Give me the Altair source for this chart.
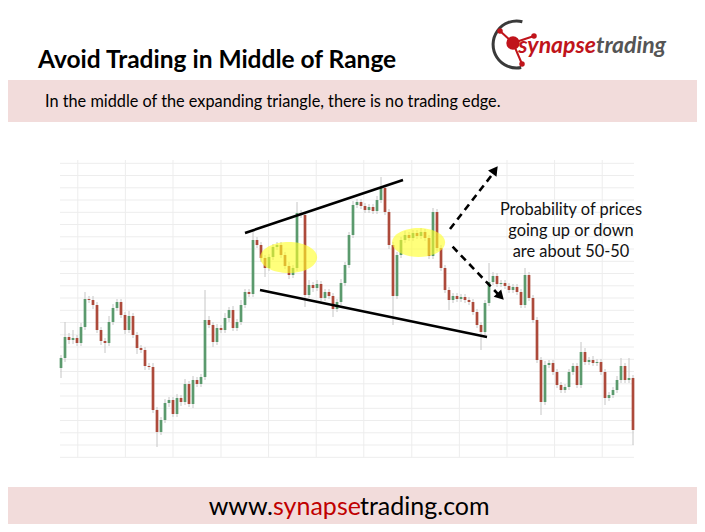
import altair as alt
import pandas as pd

# ---------------- text content ----------------
TITLE = ["Avoid Trading in Middle of Range"]
SUBTITLE = ["In the middle of the expanding triangle, there is no trading edge."]
NOTE = ["Probability of prices\ngoing up or down\nare about 50-50"]
FOOTER = ["www.", "synapse", "trading.com"]
LOGO = ["synapse", "trading"]

# ---------------- candle data (price units) ----------------
open_first = 102
close = [
    112, 133, 130, 132, 127, 143, 171, 170, 165, 140,
    129, 127, 148, 162, 168, 155, 140, 154, 135, 122,
    120, 104, 103, 60, 38, 50, 67, 70, 56, 72,
    68, 86, 66, 90, 86, 93, 150, 145, 128, 142,
    140, 152, 160, 142, 148, 165, 178, 176, 230, 225,
    212, 202, 213, 223, 225, 215, 204, 195, 202, 257,
    255, 175, 185, 182, 186, 172, 178, 174, 161, 168,
    187, 205, 235, 265, 268, 264, 260, 263, 259, 270,
    282, 258, 225, 174, 215, 230, 235, 232, 237, 234,
    238, 232, 214, 258, 222, 202, 180, 170, 174, 171,
    173, 170, 168, 158, 145, 138, 167, 188, 194, 186,
    187, 184, 180, 183, 178, 165, 195, 172, 150, 110,
    68, 105, 107, 98, 85, 80, 83, 98, 104, 85,
    118, 108, 110, 107, 108, 98, 72, 75, 80, 90,
    104, 90, 92, 40,
]
wick_up = [
    3, 15, 4, 8, 3, 4, 7, 3, 4, 3, 3, 3,
    6, 4, 3, 3, 3, 5, 3, 3, 3, 3, 3, 4,
    3, 3, 4, 3, 3, 4, 3, 5, 3, 4, 3, 3,
    30, 4, 3, 4, 3, 5, 3, 4, 3, 5, 3, 3,
    8, 3, 3, 3, 3, 3, 3, 3, 3, 4, 3, 11,
    3, 3, 5, 3, 4, 3, 3, 3, 3, 3, 4, 3,
    3, 4, 3, 3, 3, 3, 3, 4, 11, 3, 3, 3,
    3, 3, 4, 3, 3, 3, 4, 3, 3, 4, 3, 3,
    3, 3, 3, 3, 3, 3, 3, 3, 3, 3, 3, 19,
    4, 3, 3, 3, 3, 3, 3, 3, 7, 3, 3, 3,
    3, 4, 3, 3, 3, 3, 3, 3, 3, 3, 10, 4,
    3, 4, 3, 3, 3, 3, 3, 4, 8, 3, 20, 3,
]
wick_down = [
    10, 4, 4, 4, 3, 3, 3, 3, 4, 3, 4, 10,
    3, 3, 3, 3, 4, 3, 3, 6, 3, 4, 3, 3,
    15, 3, 3, 4, 3, 3, 4, 3, 3, 4, 3, 3,
    3, 3, 5, 3, 3, 3, 4, 3, 3, 3, 3, 3,
    3, 3, 4, 9, 3, 3, 3, 3, 3, 4, 3, 3,
    3, 12, 3, 4, 3, 3, 3, 3, 8, 3, 3, 3,
    3, 3, 3, 3, 3, 3, 3, 3, 3, 3, 4, 29,
    3, 3, 3, 3, 3, 3, 3, 3, 3, 3, 3, 3,
    3, 10, 3, 3, 3, 3, 3, 3, 3, 18, 3, 3,
    3, 3, 3, 3, 3, 3, 3, 3, 3, 3, 3, 3,
    13, 3, 3, 3, 3, 3, 3, 3, 3, 3, 3, 3,
    3, 3, 3, 3, 7, 3, 3, 3, 3, 3, 3, 15,
]

# gridlines (price levels / bar index)
grid_price = [306.7, 294.5, 282.2, 270.0, 257.7, 245.5, 233.2, 221.0, 208.7,
              196.5, 184.2, 172.0, 159.7, 147.5, 135.2, 123.0, 110.7, 98.5,
              86.2, 74.0, 61.7, 49.5, 37.2, 25.0, 12.7]
grid_idx = [4.2, 16.1, 28.0, 40.0, 51.9, 63.8, 75.7, 87.7, 99.6, 111.5, 123.4, 135.3]

# annotation geometry (in bar index / price units)
upper_idx = [46, 85.5]
upper_price = [237, 290]
lower_idx = [49.75, 106.5]
lower_price = [180, 133]
arrow_up_idx = [97.25, 108.3]
arrow_up_price = [241, 298]
arrow_dn_idx = [97.9, 109.6]
arrow_dn_price = [223.3, 174.5]
head_idx = [108.5, 109.9]
head_price = [300, 173.6]
head_angle = [37, 136]
ellipse_idx = [56.9, 89.4]
ellipse_price = [212.5, 227.5]

# ---------------- build tables ----------------
opens = [open_first] + close[:-1]
rows = []
for i, (o, c, u, d) in enumerate(zip(opens, close, wick_up, wick_down)):
    rows.append({
        "i": i, "open": o, "close": c,
        "high": max(o, c) + u, "low": min(o, c) - d,
        "dir": "up" if c >= o else "down",
    })
candles = pd.DataFrame(rows)

XS = alt.Scale(domain=[0, 143], range=[53, 625], nice=False, zero=False)
YS = alt.Scale(domain=[0, 300], range=[462, 162], nice=False, zero=False)


def X(f):
    return alt.X(f, scale=XS, axis=None)


def Y(f):
    return alt.Y(f, scale=YS, axis=None)


one = pd.DataFrame({"k": [0]})
FONT = "Lato"

# slide bands
band_top = alt.Chart(one).mark_rect(color="#f2dcdb").encode(
    x=alt.value(0), x2=alt.value(689), y=alt.value(72), y2=alt.value(114))
band_bot = alt.Chart(one).mark_rect(color="#f2dcdb").encode(
    x=alt.value(0), x2=alt.value(689), y=alt.value(479), y2=alt.value(516))

# grid
gh = pd.DataFrame({"p": grid_price, "a": -0.25, "b": 143.25})
grid_h = alt.Chart(gh).mark_rule(color="#ededed", strokeWidth=1).encode(
    y=Y("p:Q"), x=X("a:Q"), x2="b:Q")
gv = pd.DataFrame({"i": grid_idx, "a": 12.7, "b": 310})
grid_v = alt.Chart(gv).mark_rule(color="#ededed", strokeWidth=1).encode(
    x=X("i:Q"), y=Y("a:Q"), y2="b:Q")

# candles
wicks = alt.Chart(candles).mark_rule(color="#c6c6c6", strokeWidth=1).encode(
    x=X("i:Q"), y=Y("low:Q"), y2="high:Q")
bodies = alt.Chart(candles).mark_rule(strokeWidth=2.7, strokeCap="butt").encode(
    x=X("i:Q"), y=Y("open:Q"), y2="close:Q",
    color=alt.Color("dir:N", scale=alt.Scale(domain=["up", "down"],
                                             range=["#5b9a6d", "#ad4a3b"]),
                    legend=None))

# highlight ellipses
ELL = "M -1 0 A 1 0.545 0 1 0 1 0 A 1 0.545 0 1 0 -1 0 Z"
ell_df = pd.DataFrame({"i": ellipse_idx, "p": ellipse_price, "s": [3249, 2809]})
ellipses = alt.Chart(ell_df).mark_point(shape=ELL, filled=True, color="#ffff2a",
                                        opacity=0.62, strokeWidth=0).encode(
    x=X("i:Q"), y=Y("p:Q"), size=alt.Size("s:Q", scale=None, legend=None))

# trend lines
up_df = pd.DataFrame({"i": upper_idx, "p": upper_price})
lo_df = pd.DataFrame({"i": lower_idx, "p": lower_price})
tl_up = alt.Chart(up_df).mark_line(color="black", strokeWidth=2.6).encode(x=X("i:Q"), y=Y("p:Q"))
tl_lo = alt.Chart(lo_df).mark_line(color="black", strokeWidth=2.6).encode(x=X("i:Q"), y=Y("p:Q"))

# dashed arrows
au_df = pd.DataFrame({"i": arrow_up_idx, "p": arrow_up_price})
ad_df = pd.DataFrame({"i": arrow_dn_idx, "p": arrow_dn_price})
ar_up = alt.Chart(au_df).mark_line(color="black", strokeWidth=2.6, strokeDash=[7, 5]).encode(
    x=X("i:Q"), y=Y("p:Q"))
ar_dn = alt.Chart(ad_df).mark_line(color="black", strokeWidth=2.6, strokeDash=[7, 5]).encode(
    x=X("i:Q"), y=Y("p:Q"))
hd_df = pd.DataFrame({"i": head_idx, "p": head_price, "a": head_angle})
heads = alt.Chart(hd_df).mark_point(shape="triangle-up", filled=True, color="black",
                                    size=110, opacity=1).encode(
    x=X("i:Q"), y=Y("p:Q"), angle=alt.Angle("a:Q", scale=None))

# note text
note = alt.Chart(pd.DataFrame({"t": NOTE})).mark_text(
    font=FONT, fontSize=16.4, color="#111111", align="center", baseline="alphabetic",
    lineBreak="\n", lineHeight=21).encode(text="t:N", x=alt.value(563), y=alt.value(207))

# header texts
title = alt.Chart(pd.DataFrame({"t": TITLE})).mark_text(
    font=FONT, fontSize=24.5, fontWeight="bold", color="black", align="left",
    baseline="alphabetic").encode(text="t:N", x=alt.value(30), y=alt.value(60))
subtitle = alt.Chart(pd.DataFrame({"t": SUBTITLE})).mark_text(
    font=FONT, fontSize=16.3, color="black", align="left",
    baseline="alphabetic").encode(text="t:N", x=alt.value(37), y=alt.value(99))

# footer
FS = 25
f1 = alt.Chart(pd.DataFrame({"t": [FOOTER[0]]})).mark_text(
    font=FONT, fontSize=FS, color="black", align="right", baseline="alphabetic").encode(
    text="t:N", x=alt.value(265), y=alt.value(507))
f2 = alt.Chart(pd.DataFrame({"t": [FOOTER[1]]})).mark_text(
    font=FONT, fontSize=FS, color="#c00000", align="left", baseline="alphabetic").encode(
    text="t:N", x=alt.value(265), y=alt.value(507))
f3 = alt.Chart(pd.DataFrame({"t": [FOOTER[2]]})).mark_text(
    font=FONT, fontSize=FS, color="black", align="left", baseline="alphabetic").encode(
    text="t:N", x=alt.value(352), y=alt.value(507))

# logo
ARC = "M 0.25 -0.97 A 1 1 0 1 0 0.2 0.98"
logo_arc = alt.Chart(one).mark_point(shape=ARC, filled=False, color="#3a3a3a",
                                     strokeWidth=3, size=2209, opacity=1).encode(
    x=alt.value(508.5), y=alt.value(36.5))
logo_l1 = alt.Chart(one).mark_rule(color="#c0141b", strokeWidth=2).encode(
    x=alt.value(505), y=alt.value(35), x2=alt.value(492), y2=alt.value(23))
logo_l2 = alt.Chart(one).mark_rule(color="#c0141b", strokeWidth=2).encode(
    x=alt.value(505), y=alt.value(35), x2=alt.value(526), y2=alt.value(28))
logo_l3 = alt.Chart(one).mark_rule(color="#c0141b", strokeWidth=2).encode(
    x=alt.value(505), y=alt.value(35), x2=alt.value(514), y2=alt.value(56))
logo_blob = alt.Chart(one).mark_point(shape="circle", filled=True, color="#c0141b",
                                      size=180, opacity=1).encode(
    x=alt.value(505), y=alt.value(35))
logo_n1 = alt.Chart(one).mark_point(shape="circle", filled=True, color="#c0141b",
                                    size=30, opacity=1).encode(x=alt.value(492), y=alt.value(23))
logo_n2 = alt.Chart(one).mark_point(shape="circle", filled=True, color="#c0141b",
                                    size=30, opacity=1).encode(x=alt.value(526), y=alt.value(28))
logo_n3 = alt.Chart(one).mark_point(shape="circle", filled=True, color="#c0141b",
                                    size=30, opacity=1).encode(x=alt.value(514), y=alt.value(56))
logo_t1 = alt.Chart(pd.DataFrame({"t": [LOGO[0]]})).mark_text(
    font=FONT, fontSize=23, fontWeight="bold", fontStyle="italic", color="#c0141b",
    align="right", baseline="alphabetic").encode(text="t:N", x=alt.value(588), y=alt.value(45))
logo_t2 = alt.Chart(pd.DataFrame({"t": [LOGO[1]]})).mark_text(
    font=FONT, fontSize=23, fontWeight="bold", fontStyle="italic", color="#555555",
    align="left", baseline="alphabetic").encode(text="t:N", x=alt.value(588), y=alt.value(45))

chart = alt.layer(
    band_top, band_bot, grid_h, grid_v, wicks, bodies, ellipses,
    tl_up, tl_lo, ar_up, ar_dn, heads, note, title, subtitle, f1, f2, f3,
    logo_arc, logo_l1, logo_l2, logo_l3, logo_blob, logo_n1, logo_n2, logo_n3,
    logo_t1, logo_t2,
).properties(
    width=689, height=516, padding=0,
    autosize=alt.AutoSizeParams(type="none"),
    background="white",
).configure_view(stroke=None)

chart.save("out.html", embed_options={"renderer": "svg", "actions": False})
